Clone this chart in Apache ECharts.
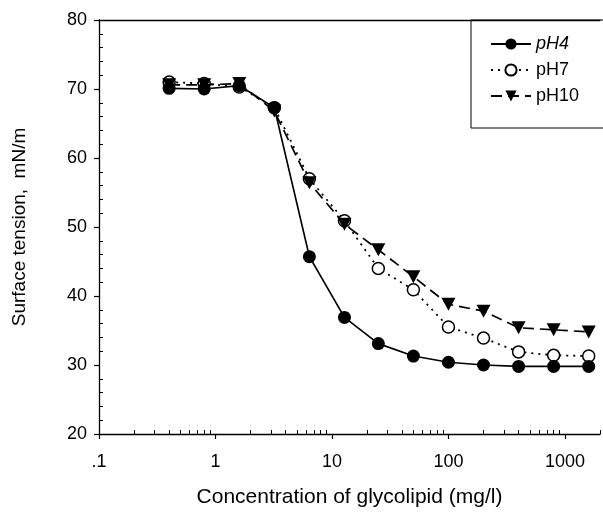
<!DOCTYPE html>
<html>
<head>
<meta charset="utf-8">
<script src="https://cdn.jsdelivr.net/npm/echarts@6/dist/echarts.min.js"></script>
<style>
html,body{margin:0;padding:0;background:#fff;}
#chart{width:603px;height:513px;}
</style>
</head>
<body>
<div id="chart"></div>
<script>
var concentrations = [0.4, 0.8, 1.6, 3.2, 6.4, 12.8, 25, 50, 100, 200, 400, 800, 1600];
var pH4 = [70.1, 70.0, 70.5, 67.3, 45.7, 36.9, 33.1, 31.3, 30.4, 30.0, 29.8, 29.8, 29.8];
var pH7 = [71.0, 70.8, 70.3, 67.3, 57.0, 50.9, 44.0, 40.9, 35.5, 33.9, 31.9, 31.4, 31.3];
var pH10 = [70.6, 70.6, 70.8, 66.8, 56.4, 50.4, 46.7, 42.8, 38.8, 37.8, 35.4, 35.1, 34.8];
var seriesNames = ['pH4', 'pH7', 'pH10'];
var xMajorTicks = [0.1, 1, 10, 100, 1000];
var xTickLabels = ['.1', '1', '10', '100', '1000'];
var yMinorTicks = [22, 24, 26, 28, 32, 34, 36, 38, 42, 44, 46, 48, 52, 54, 56, 58, 62, 64, 66, 68, 72, 74, 76, 78];

var xMinorTicks = [];
[0.1, 1, 10, 100, 1000].forEach(function (d) {
  for (var k = 2; k <= 9; k++) { if (d * k <= 2000) xMinorTicks.push(+(d * k).toPrecision(3)); }
});

function pairs(vals) {
  return concentrations.map(function (c, i) { return [c, vals[i]]; });
}

var font = 'Liberation Sans, Arial, sans-serif';
var chart = echarts.init(document.getElementById('chart'), null, {renderer: 'canvas'});
var downTri = 'path://M0,0 L10,0 L5,9 Z';

chart.setOption({
  animation: false,
  backgroundColor: '#fff',
  grid: {left: 99, top: 20, right: 3, bottom: 78},
  legend: {
    orient: 'vertical',
    left: 471, top: 20,
    padding: [14, 40, 22, 19],
    borderColor: '#000', borderWidth: 1,
    itemWidth: 40, itemHeight: 14, itemGap: 6,
    data: [
      {name: 'pH4', textStyle: {fontStyle: 'italic'}},
      {name: 'pH7'},
      {name: 'pH10'}
    ],
    textStyle: {fontFamily: font, fontSize: 18, color: '#000', lineHeight: 20}
  },
  xAxis: [
    {
      type: 'log', logBase: 10, min: 0.1, max: 2000,
      name: 'Concentration of glycolipid (mg/l)',
      nameLocation: 'middle', nameGap: 53,
      nameTextStyle: {fontFamily: font, fontSize: 21, color: '#000'},
      axisLine: {show: true, onZero: false, lineStyle: {color: '#000', width: 1.3}},
      axisTick: {show: true, inside: false, length: 5, customValues: xMajorTicks, lineStyle: {color: '#000', width: 1.2}},
      axisLabel: {
        customValues: xMajorTicks, margin: 19,
        fontFamily: font, fontSize: 18, color: '#000',
        formatter: function (v) {
          var i = xMajorTicks.findIndex(function (t) { return Math.abs(t - v) / t < 1e-6; });
          return i >= 0 ? xTickLabels[i] : '';
        }
      },
      splitLine: {show: false}, minorTick: {show: false}
    },
    {
      type: 'log', logBase: 10, min: 0.1, max: 2000, position: 'bottom',
      axisLine: {show: false, onZero: false},
      axisTick: {show: true, inside: true, length: 4, customValues: xMinorTicks, lineStyle: {color: '#000', width: 1}},
      axisLabel: {show: false}, splitLine: {show: false}
    },
    {
      type: 'log', logBase: 10, min: 0.1, max: 2000, position: 'top',
      axisLine: {show: true, onZero: false, lineStyle: {color: '#000', width: 1.3}},
      axisTick: {show: false}, axisLabel: {show: false}, splitLine: {show: false}
    }
  ],
  yAxis: [
    {
      type: 'value', min: 20, max: 80, interval: 10,
      name: 'Surface tension,  mN/m',
      nameLocation: 'middle', nameGap: 70,
      nameTextStyle: {fontFamily: font, fontSize: 19, color: '#000'},
      axisLine: {show: true, onZero: false, lineStyle: {color: '#000', width: 1.3}},
      axisTick: {show: true, inside: false, length: 5, lineStyle: {color: '#000', width: 1.2}},
      axisLabel: {margin: 12, fontFamily: font, fontSize: 18, color: '#000'},
      splitLine: {show: false}
    },
    {
      type: 'value', min: 20, max: 80, position: 'left',
      axisLine: {show: false, onZero: false},
      axisTick: {show: true, inside: true, length: 4, customValues: yMinorTicks, lineStyle: {color: '#000', width: 1}},
      axisLabel: {show: false}, splitLine: {show: false}
    }
  ],
  series: [
    {
      name: 'pH4', type: 'line', xAxisIndex: 0, yAxisIndex: 0,
      data: pairs(pH4),
      symbol: 'circle', symbolSize: 13,
      itemStyle: {color: '#000', borderColor: '#000', borderWidth: 0},
      lineStyle: {color: '#000', width: 1.7, type: 'solid'},
      z: 5
    },
    {
      name: 'pH7', type: 'line', xAxisIndex: 0, yAxisIndex: 0,
      data: pairs(pH7),
      symbol: 'circle', symbolSize: 12,
      itemStyle: {color: '#fff', borderColor: '#000', borderWidth: 1.5},
      lineStyle: {color: '#000', width: 1.8, type: [2, 5]},
      z: 3
    },
    {
      name: 'pH10', type: 'line', xAxisIndex: 0, yAxisIndex: 0,
      data: pairs(pH10),
      symbol: downTri, symbolSize: [14, 13],
      itemStyle: {color: '#000', borderColor: '#000', borderWidth: 0},
      lineStyle: {color: '#000', width: 1.7, type: [11, 6]},
      z: 4
    }
  ]
});
</script>
</body>
</html>
